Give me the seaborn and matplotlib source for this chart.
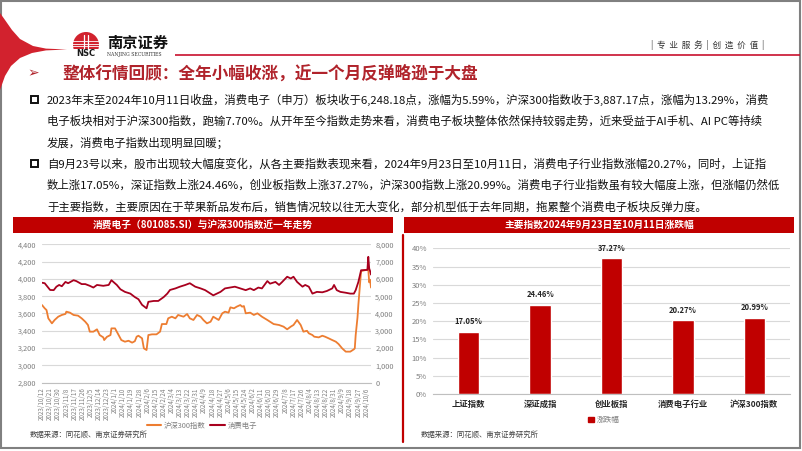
import numpy as np
import pandas as pd
import matplotlib
matplotlib.use("Agg")
import matplotlib.pyplot as plt
import seaborn as sns
from matplotlib.patches import Rectangle, Polygon, Circle, Patch
from matplotlib.lines import Line2D

# ---------------- data ----------------
csi_dates = ["2023-10-12", "2023-10-15", "2023-10-17", "2023-10-19", "2023-10-23", "2023-10-26",
             "2023-10-30", "2023-11-03", "2023-11-07", "2023-11-08", "2023-11-12", "2023-11-16",
             "2023-11-21", "2023-11-25", "2023-11-29", "2023-12-02", "2023-12-04", "2023-12-08",
             "2023-12-12", "2023-12-15", "2023-12-19", "2023-12-20", "2023-12-23", "2023-12-27",
             "2023-12-28", "2024-01-01", "2024-01-05", "2024-01-08", "2024-01-12", "2024-01-16",
             "2024-01-20", "2024-01-23", "2024-01-25", "2024-01-27", "2024-01-31", "2024-02-02",
             "2024-02-05", "2024-02-07", "2024-02-11", "2024-02-16", "2024-02-20", "2024-02-22",
             "2024-02-27", "2024-02-29", "2024-03-04", "2024-03-08", "2024-03-11", "2024-03-17",
             "2024-03-21", "2024-03-24", "2024-03-28", "2024-04-01", "2024-04-05", "2024-04-08",
             "2024-04-12", "2024-04-16", "2024-04-19", "2024-04-25", "2024-04-29", "2024-05-02",
             "2024-05-06", "2024-05-08", "2024-05-12", "2024-05-15", "2024-05-19", "2024-05-21",
             "2024-05-23", "2024-05-25", "2024-05-30", "2024-06-03", "2024-06-07", "2024-06-12",
             "2024-06-18", "2024-06-25", "2024-07-01", "2024-07-06", "2024-07-10", "2024-07-14",
             "2024-07-17", "2024-07-21", "2024-07-25", "2024-07-28", "2024-08-01", "2024-08-03",
             "2024-08-07", "2024-08-09", "2024-08-14", "2024-08-18", "2024-08-21", "2024-08-25",
             "2024-08-29", "2024-09-02", "2024-09-05", "2024-09-09", "2024-09-13", "2024-09-18",
             "2024-09-22", "2024-09-23", "2024-09-24", "2024-09-26", "2024-09-27", "2024-09-30",
             "2024-10-08", "2024-10-09", "2024-10-10", "2024-10-11"]
csi_values = [3698, 3660, 3640, 3544, 3486, 3525,
              3563, 3583, 3595, 3621, 3610, 3583,
              3575, 3544, 3505, 3467, 3390, 3390,
              3417, 3351, 3324, 3293, 3330, 3351,
              3428, 3428, 3351, 3293, 3274, 3285,
              3263, 3280, 3332, 3343, 3313, 3197,
              3178, 3351, 3359, 3359, 3390, 3478,
              3478, 3544, 3563, 3544, 3583, 3563,
              3594, 3544, 3525, 3583, 3563, 3525,
              3486, 3505, 3563, 3525, 3602, 3621,
              3610, 3671, 3660, 3679, 3698, 3679,
              3686, 3602, 3610, 3583, 3602, 3563,
              3525, 3478, 3467, 3448, 3417, 3448,
              3467, 3525, 3467, 3390, 3400, 3371,
              3351, 3332, 3324, 3343, 3332, 3313,
              3293, 3274, 3247, 3197, 3159, 3159,
              3186, 3197, 3350, 3552, 3704, 4090,
              4110, 3960, 3990, 3900]

ce_dates = ["2023-10-12", "2023-10-15", "2023-10-21", "2023-10-25", "2023-10-28", "2023-10-31",
            "2023-11-03", "2023-11-07", "2023-11-10", "2023-11-16", "2023-11-19", "2023-11-25",
            "2023-11-29", "2023-12-04", "2023-12-08", "2023-12-12", "2023-12-19", "2023-12-25",
            "2023-12-28", "2024-01-03", "2024-01-07", "2024-01-12", "2024-01-18", "2024-01-23",
            "2024-01-27", "2024-01-31", "2024-02-05", "2024-02-07", "2024-02-13", "2024-02-18",
            "2024-02-24", "2024-02-28", "2024-03-02", "2024-03-08", "2024-03-13", "2024-03-19",
            "2024-03-24", "2024-03-30", "2024-04-05", "2024-04-10", "2024-04-16", "2024-04-19",
            "2024-04-27", "2024-05-02", "2024-05-13", "2024-05-19", "2024-05-25", "2024-05-30",
            "2024-06-03", "2024-06-08", "2024-06-12", "2024-06-18", "2024-06-21", "2024-06-27",
            "2024-07-01", "2024-07-04", "2024-07-10", "2024-07-14", "2024-07-17", "2024-07-21",
            "2024-07-27", "2024-07-30", "2024-08-03", "2024-08-07", "2024-08-12", "2024-08-18",
            "2024-08-23", "2024-08-29", "2024-08-31", "2024-09-03", "2024-09-07", "2024-09-13",
            "2024-09-18", "2024-09-22", "2024-09-24", "2024-09-27", "2024-09-30", "2024-10-07",
            "2024-10-08", "2024-10-09", "2024-10-10", "2024-10-11"]
ce_values = [5780, 5750, 5360, 5350, 5550, 5650,
             5575, 5825, 5750, 5925, 5875, 5700,
             5700, 5600, 5500, 5650, 5600, 5650,
             5925, 5650, 5400, 5250, 5150, 4950,
             4825, 4500, 4300, 4675, 4725, 4725,
             4950, 5150, 5360, 5450, 5550, 5650,
             5750, 5550, 5450, 5350, 5150, 5050,
             5250, 5450, 5550, 5450, 5350, 5450,
             5350, 5500, 5450, 5875, 5725, 5825,
             5650, 5800, 6125, 6025, 6125, 5825,
             5550, 5650, 5550, 5150, 5250, 5225,
             5300, 5450, 5650, 5350, 5250, 5200,
             5150, 5150, 5350, 5825, 6500, 6520,
             7275, 6600, 6450, 6250]

left_ticks = [2800, 3000, 3200, 3400, 3600, 3800, 4000, 4200, 4400]
right_ticks = [0, 1000, 2000, 3000, 4000, 5000, 6000, 7000, 8000]

bar_categories = ["上证指数", "深证成指", "创业板指", "消费电子行业", "沪深300指数"]
bar_values = [17.05, 24.46, 37.27, 20.27, 20.99]
bar_ticks = [0, 5, 10, 15, 20, 25, 30, 35, 40]

series_names = ["沪深300指数", "消费电子"]
bar_series_name = "涨跌幅"

title = "整体行情回顾：全年小幅收涨，近一个月反弹略逊于大盘"
para_lines = [
    "2023年末至2024年10月11日收盘，消费电子（申万）板块收于6,248.18点，涨幅为5.59%，沪深300指数收于3,887.17点，涨幅为13.29%，消费",
    "电子板块相对于沪深300指数，跑输7.70%。从开年至今指数走势来看，消费电子板块整体依然保持较弱走势，近来受益于AI手机、AI PC等持续",
    "发展，消费电子指数出现明显回暖；",
    "自9月23号以来，股市出现较大幅度变化，从各主要指数表现来看，2024年9月23日至10月11日，消费电子行业指数涨幅20.27%，同时，上证指",
    "数上涨17.05%，深证指数上涨24.46%，创业板指数上涨37.27%，沪深300指数上涨20.99%。消费电子行业指数虽有较大幅度上涨，但涨幅仍然低",
    "于主要指数，主要原因在于苹果新品发布后，销售情况较以往无大变化，部分机型低于去年同期，拖累整个消费电子板块反弹力度。",
]
left_title = "消费电子（801085.SI）与沪深300指数近一年走势"
right_title = "主要指数2024年9月23日至10月11日涨跌幅"
source = "数据来源：同花顺、南京证券研究所"

# ---------------- style ----------------
sns.set_theme(style="white")
plt.rcParams["font.family"] = ["Noto Sans CJK SC", "DejaVu Sans"]
plt.rcParams["axes.unicode_minus"] = False

RED = "#C00000"
TITLE_RED = "#B0232B"
ORANGE = "#ED7D31"
DARKRED = "#A8001E"
GRID = "#D9D9D9"
GRAY_TXT = "#7F7F7F"

W, H = 802, 451
fig = plt.figure(figsize=(W / 100, H / 100), dpi=100)
bg = fig.add_axes([0, 0, 1, 1])
bg.set_xlim(0, W)
bg.set_ylim(H, 0)
bg.axis("off")


def px_axes(x0, y0, x1, y1):
    return fig.add_axes([x0 / W, 1 - y1 / H, (x1 - x0) / W, (y1 - y0) / H])


# ---------------- slide decoration ----------------
bg.add_patch(Rectangle((1, 1), W - 3, H - 4, fill=False, ec="#808080", lw=1.5))
swoosh = [(0, 13), (5, 20), (12, 30), (20, 39), (33, 46), (46, 48.6), (67, 49.5),
          (46, 50.4), (32, 53), (20, 58), (11, 66), (5, 76), (0, 90)]
bg.add_patch(Polygon(swoosh, closed=True, fc="#D2222E", ec="none"))
bg.plot([175, 800], [55, 55], color="#C8102E", lw=1.2, solid_capstyle="butt")

# logo
clip = Rectangle((70, 30), 32, 18.5, transform=bg.transData)
circ = Circle((86, 45), 13, fc="#D2222E", ec="none")
bg.add_patch(circ)
circ.set_clip_path(clip)
for yy in (40.5, 43.5, 46.3):
    bg.plot([72, 100], [yy, yy], color="white", lw=0.6)
bg.plot([84, 84], [35, 48], color="white", lw=0.9)
bg.plot([88, 88], [35, 48], color="white", lw=0.9)
bg.text(86, 53.5, "NSC", ha="center", va="center", fontsize=6, fontweight="bold",
        color="#1a1a1a", family=["DejaVu Sans"])
bg.text(107, 42.5, "南京证券", ha="left", va="center", fontsize=11, fontweight="bold",
        color="#111111")
bg.text(107, 54.5, "NANJING SECURITIES", ha="left", va="center", fontsize=3.3,
        color="#333333", family=["DejaVu Serif"])
bg.text(708, 45, "|  专  业  服  务  |  创  造  价  值  |", ha="center", va="center",
        fontsize=6.2, color="#333333")

# title
bg.text(33, 73.5, "➢", ha="center", va="center", fontsize=10, color=TITLE_RED,
        family=["DejaVu Sans"])
bg.text(62, 73.5, title, ha="left", va="center", fontsize=12, fontweight="bold",
        color=TITLE_RED)

# paragraphs
line_y = [100, 121.3, 142.6, 164, 185.3, 206.6]
for i, (yy, s) in enumerate(zip(line_y, para_lines)):
    if i in (0, 3):
        bg.add_patch(Rectangle((31, yy - 3.8), 7.2, 7.2, fill=False, ec="#111111", lw=1.4))
    bg.text(47, yy, s, ha="left", va="center", fontsize=8.2, color="#111111")

# panel headers
bg.add_patch(Rectangle((13, 216.5), 380, 16, fc=RED, ec="none"))
bg.text(203, 224.5, left_title, ha="center", va="center", fontsize=7, fontweight="bold",
        color="white")
bg.add_patch(Rectangle((404, 216.5), 390, 16, fc=RED, ec="none"))
bg.text(599, 224.5, right_title, ha="center", va="center", fontsize=7, fontweight="bold",
        color="white")
bg.plot([403, 403], [235, 442], color=RED, lw=1.6)

bg.text(30, 435, source, ha="left", va="center", fontsize=5.3, color="#404040")
bg.text(421, 435, source, ha="left", va="center", fontsize=5.3, color="#404040")

# ---------------- left chart: line chart ----------------
df_csi = pd.DataFrame({"date": pd.to_datetime(csi_dates), "value": csi_values})
df_ce = pd.DataFrame({"date": pd.to_datetime(ce_dates), "value": ce_values})

axl = px_axes(42, 244.3, 371, 382.7)
axl.patch.set_alpha(0)
sns.lineplot(data=df_csi, x="date", y="value", ax=axl, color=ORANGE, lw=1.3)
axl2 = axl.twinx()
sns.lineplot(data=df_ce, x="date", y="value", ax=axl2, color=DARKRED, lw=1.3)

axl.set_ylim(left_ticks[0], left_ticks[-1])
axl2.set_ylim(right_ticks[0], right_ticks[-1])
axl.set_yticks(left_ticks)
axl.set_yticklabels([f"{v:,}" for v in left_ticks])
axl2.set_yticks(right_ticks)
axl2.set_yticklabels([f"{v:,}" for v in right_ticks])
xt = pd.date_range("2023-10-12", "2024-10-06", freq="9D")
axl.set_xlim(pd.Timestamp("2023-10-12"), pd.Timestamp("2024-10-11"))
axl.set_xticks(xt)
axl.set_xticklabels([f"{d.year}/{d.month}/{d.day}" for d in xt], rotation=90)
axl.yaxis.grid(True, color=GRID, lw=0.8)
axl.set_axisbelow(True)
for a in (axl, axl2):
    a.set_xlabel("")
    a.set_ylabel("")
    for sp in ("top", "left", "right", "bottom"):
        a.spines[sp].set_visible(False)
axl.spines["bottom"].set_visible(True)
axl.spines["bottom"].set_color("#BFBFBF")
axl.spines["bottom"].set_linewidth(0.8)
axl.tick_params(axis="x", length=2, color="#BFBFBF", pad=1.5, labelsize=4.5,
                labelcolor=GRAY_TXT)
axl.tick_params(axis="y", length=0, pad=4, labelsize=5.3, labelcolor=GRAY_TXT)
axl2.tick_params(axis="y", length=0, pad=3, labelsize=5.3, labelcolor=GRAY_TXT)

handles = [Line2D([], [], color=ORANGE, lw=1.5), Line2D([], [], color=DARKRED, lw=1.5)]
fig.legend(handles, series_names, loc="center", bbox_to_anchor=(202 / W, 1 - 426 / H),
           ncol=2, frameon=False, fontsize=5.3, handlelength=2.0, handletextpad=0.4,
           columnspacing=0.6, labelcolor=GRAY_TXT)

# ---------------- right chart: bar chart ----------------
axr = px_axes(433, 248.3, 790, 394)
axr.patch.set_alpha(0)
sns.barplot(x=bar_categories, y=bar_values, ax=axr, color=RED, width=0.3, saturation=1)
axr.set_xlim(-0.5, len(bar_categories) - 0.5)
axr.set_ylim(bar_ticks[0], bar_ticks[-1])
axr.set_yticks(bar_ticks)
axr.set_yticklabels([f"{v}%" for v in bar_ticks])
axr.yaxis.grid(True, color=GRID, lw=0.8)
axr.set_axisbelow(True)
for sp in ("top", "left", "right"):
    axr.spines[sp].set_visible(False)
axr.spines["bottom"].set_color("#BFBFBF")
axr.spines["bottom"].set_linewidth(0.8)
axr.tick_params(axis="y", length=0, pad=4.3, labelsize=5.5, labelcolor=GRAY_TXT)
axr.tick_params(axis="x", length=0, pad=4.5, labelsize=6, labelcolor="#262626")
for lab in axr.get_xticklabels():
    lab.set_fontweight("bold")
axr.set_xlabel("")
axr.set_ylabel("")
axr.bar_label(axr.containers[0], labels=[f"{v:.2f}%" for v in bar_values], padding=4,
              fontsize=5.5, fontweight="bold", color="#262626")
fig.legend([Patch(color=RED)], [bar_series_name], loc="center",
           bbox_to_anchor=(604 / W, 1 - 420 / H), frameon=False, fontsize=5.5,
           handlelength=0.7, handleheight=0.7, handletextpad=0.4, labelcolor=GRAY_TXT)

fig.savefig("out.png", dpi=100)
